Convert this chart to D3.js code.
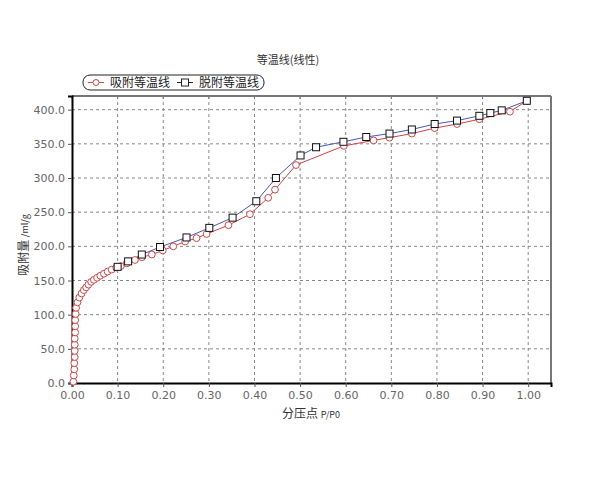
<!DOCTYPE html>
<html>
<head>
<meta charset="utf-8">
<script src="https://d3js.org/d3.v7.min.js"></script>
<style>
  body { margin: 0; background: #fff; }
  text { font-family: "Noto Sans CJK SC", "DejaVu Sans", sans-serif; }
</style>
</head>
<body>
<script>
// adsorption branch (red circles)
var adsX = [0.003,0.004,0.005,0.005,0.006,0.006,0.006,0.006,0.007,0.007,0.007,0.008,0.009,0.012,0.016,0.021,0.026,0.031,0.036,0.042,0.048,0.055,0.062,0.070,0.078,0.087,0.097,0.107,0.12,0.138,0.153,0.175,0.199,0.222,0.248,0.273,0.295,0.343,0.39,0.43,0.445,0.491,0.596,0.661,0.696,0.745,0.795,0.844,0.893,0.96,0.997];
var adsY = [2,11,20,29,38,47,56,65,74,83,92,101,110,118,125,131,136,140,144,148,151,154,157,160,163,166,169,171,175,180,184,188,194,200,207,212,218,231,247,271,283,319,347,355,359,365,373,379,386,397,413];
// desorption branch (blue line, squares)
var desX = [0.997,0.942,0.917,0.893,0.844,0.795,0.745,0.696,0.645,0.595,0.535,0.501,0.447,0.404,0.352,0.301,0.251,0.193,0.153,0.123,0.10];
var desY = [413,399,395,391,384,379,371,365,360,353,345,333,300,266,242,227,213,199,188,178,170];
var xTicks = [0,0.1,0.2,0.3,0.4,0.5,0.6,0.7,0.8,0.9,1.0];
var yTicks = [0,50,100,150,200,250,300,350,400];

var W = 607, H = 485;
var m = {left: 72, top: 96, right: 551, bottom: 383};

var svg = d3.select("body").append("svg").attr("width", W).attr("height", H);

var x = d3.scaleLinear().domain([0, 1.05]).range([m.left, m.right]);
var y = d3.scaleLinear().domain([0, 420]).range([m.bottom, m.top]);

// grid
svg.append("g").selectAll("line").data(xTicks.slice(1)).enter().append("line")
  .attr("x1", d => x(d)).attr("x2", d => x(d))
  .attr("y1", m.top).attr("y2", m.bottom)
  .attr("stroke", "#888").attr("stroke-dasharray", "3,3");
svg.append("g").selectAll("line").data(yTicks.slice(1)).enter().append("line")
  .attr("x1", m.left).attr("x2", m.right)
  .attr("y1", d => y(d)).attr("y2", d => y(d))
  .attr("stroke", "#888").attr("stroke-dasharray", "3,3");

// frame
svg.append("line").attr("x1", m.left).attr("x2", m.right).attr("y1", m.top).attr("y2", m.top)
  .attr("stroke", "#777").attr("stroke-width", 2);
svg.append("line").attr("x1", m.right).attr("x2", m.right).attr("y1", m.top).attr("y2", m.bottom)
  .attr("stroke", "#777").attr("stroke-width", 2);
// small inner ticks along the top edge
svg.append("g").selectAll("line").data(xTicks).enter().append("line")
  .attr("x1", d => x(d)).attr("x2", d => x(d))
  .attr("y1", m.top).attr("y2", m.top + 3)
  .attr("stroke", "#777");

// axes
var xAxis = svg.append("g").attr("transform", "translate(0," + m.bottom + ")")
  .call(d3.axisBottom(x).tickValues(xTicks).tickFormat(d3.format(".2f")).tickSize(4).tickPadding(4));
var yAxis = svg.append("g").attr("transform", "translate(" + m.left + ",0)")
  .call(d3.axisLeft(y).tickValues(yTicks).tickFormat(d3.format(".1f")).tickSize(4).tickPadding(3));
[xAxis, yAxis].forEach(function(a) {
  a.select(".domain").attr("stroke", "#000").attr("stroke-width", 2);
  a.selectAll(".tick line").attr("stroke", "#555");
  a.selectAll(".tick text").attr("fill", "#666").style("font-size", "11px")
    .style("font-family", "'DejaVu Sans', sans-serif");
});

// lines
var line = d3.line().x(d => x(d[0])).y(d => y(d[1]));
var ads = adsX.map((v, i) => [v, adsY[i]]);
var des = desX.map((v, i) => [v, desY[i]]);

svg.append("path").datum(ads).attr("d", line).attr("fill", "none").attr("stroke", "#d84040").attr("stroke-width", 1);
svg.append("path").datum(des).attr("d", line).attr("fill", "none").attr("stroke", "#4858b8").attr("stroke-width", 1);

svg.append("g").selectAll("circle").data(ads).enter().append("circle")
  .attr("cx", d => x(d[0])).attr("cy", d => y(d[1])).attr("r", 3.4)
  .attr("fill", "#fff").attr("stroke", "#d04848").attr("stroke-width", 1);
svg.append("g").selectAll("rect").data(des).enter().append("rect")
  .attr("x", d => x(d[0]) - 3.5).attr("y", d => y(d[1]) - 3.5)
  .attr("width", 7).attr("height", 7)
  .attr("fill", "#fff").attr("stroke", "#111").attr("stroke-width", 1);

// title and axis labels
svg.append("text").attr("x", 288).attr("y", 64).attr("text-anchor", "middle")
  .style("font-size", "11px").attr("fill", "#333").text("等温线(线性)");

var xl = svg.append("text").attr("x", 311).attr("y", 418).attr("text-anchor", "middle")
  .style("font-size", "12px").attr("fill", "#333");
xl.append("tspan").text("分压点 ");
xl.append("tspan").style("font-size", "9px").text("P/P0");

var yl = svg.append("text").attr("transform", "translate(28,245) rotate(-90)").attr("text-anchor", "middle")
  .style("font-size", "12px").attr("fill", "#333");
yl.append("tspan").text("吸附量 ");
yl.append("tspan").style("font-size", "9px").text("/ml/g");

// legend
var lg = svg.append("g");
lg.append("rect").attr("x", 83).attr("y", 75).attr("width", 181).attr("height", 15)
  .attr("rx", 7).attr("fill", "#fff").attr("stroke", "#222").attr("stroke-width", 1);
lg.append("line").attr("x1", 88).attr("x2", 104).attr("y1", 82.5).attr("y2", 82.5).attr("stroke", "#d84040");
lg.append("circle").attr("cx", 96).attr("cy", 82.5).attr("r", 3).attr("fill", "#fff").attr("stroke", "#d04848");
lg.append("text").attr("x", 110).attr("y", 87).style("font-size", "12px").attr("fill", "#222").text("吸附等温线");
lg.append("line").attr("x1", 177).attr("x2", 193).attr("y1", 82.5).attr("y2", 82.5).attr("stroke", "#222");
lg.append("rect").attr("x", 181.5).attr("y", 79).attr("width", 7).attr("height", 7).attr("fill", "#fff").attr("stroke", "#222");
lg.append("text").attr("x", 199).attr("y", 87).style("font-size", "12px").attr("fill", "#222").text("脱附等温线");
</script>
</body>
</html>
